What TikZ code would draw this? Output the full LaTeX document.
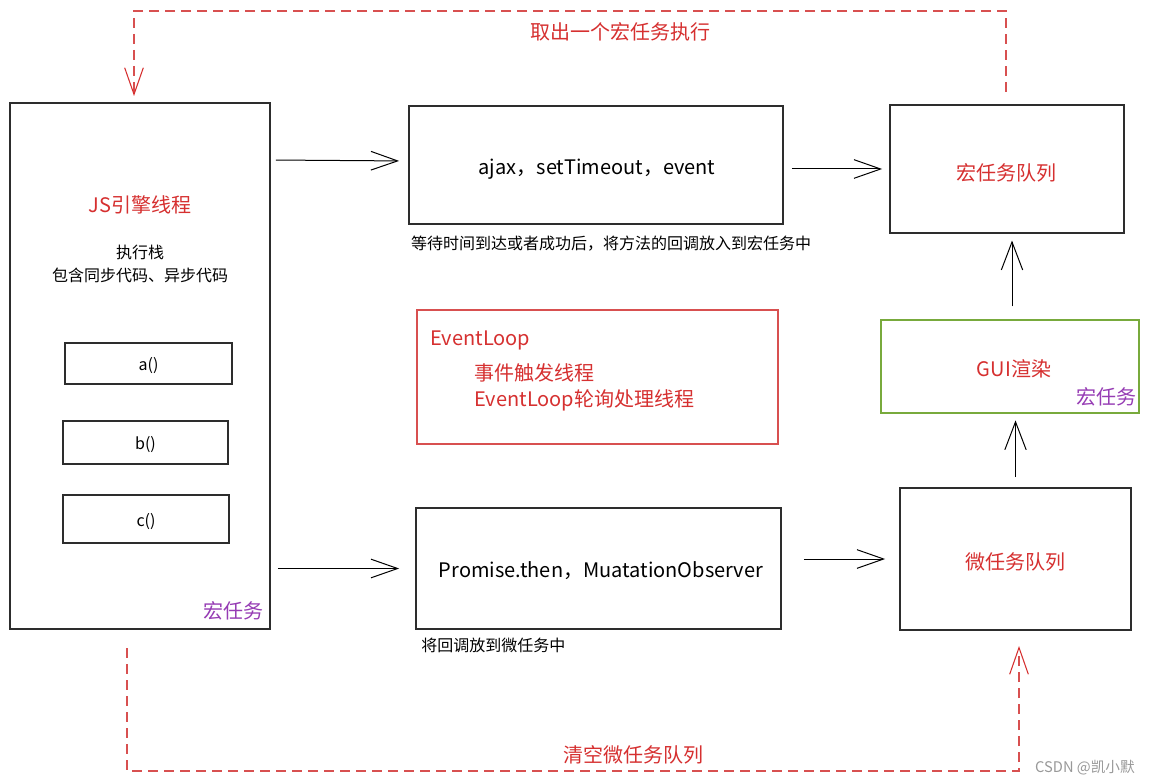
\documentclass[tikz,border=0pt]{standalone}
\usepackage{fontspec}
\setmainfont{Noto Sans CJK SC}
\usetikzlibrary{arrows.meta}
\definecolor{tred}{RGB}{214,48,48}
\definecolor{dred}{RGB}{216,80,80}
\definecolor{tpurple}{RGB}{150,60,180}
\definecolor{tgreen}{RGB}{120,170,60}
\definecolor{boxc}{RGB}{45,45,45}
\begin{document}
\begin{tikzpicture}[x=0.75pt,y=-0.75pt,
  box/.style={draw=boxc, line width=1.3pt, inner sep=0pt},
  big/.style={font=\fontsize{15}{18}\selectfont},
  mid/.style={font=\fontsize{15}{18}\selectfont},
  small/.style={font=\fontsize{12}{17}\selectfont},
  redtxt/.style={text=tred},
  purtxt/.style={text=tpurple},
  arr/.style={line width=0.75pt, -{Straight Barb[length=20pt,width=14pt,line width=0.75pt]}},
  uarr/.style={line width=0.75pt, -{Straight Barb[length=21pt,width=16pt,line width=0.75pt]}},
  darr/.style={draw=dred, line width=1pt, dash pattern=on 7.5pt off 4.5pt,
    -{Straight Barb[length=20pt,width=14pt,line width=0.8pt,color=tred]}}]
\useasboundingbox (0,0) rectangle (1149,784);
\fill[white] (0,0) rectangle (1149,784);

% left engine box
\node[box, minimum width=195pt, minimum height=394.5pt] (js) at (140,366) {};
\node[big, redtxt] (jst) at (140,205) {JS引擎线程};
\node[small, align=center] (stack) at (140,264) {执行栈\\包含同步代码、异步代码};
\node[box, minimum width=125.25pt, minimum height=30.75pt] (fa) at (148.5,363.5) {};
\node[small] (fat) at (148.5,366) {a()};
\node[box, minimum width=123.75pt, minimum height=32.25pt] (fb) at (145.5,442.5) {};
\node[small] (fbt) at (145.5,445) {b()};
\node[box, minimum width=124.5pt, minimum height=36pt] (fc) at (146,519) {};
\node[small] (fct) at (146,522) {c()};
\node[big, purtxt] (jsmacro) at (233,611) {宏任务};

% middle boxes
\node[box, minimum width=280.5pt, minimum height=88.5pt] (ajax) at (596,165) {};
\node[mid] (ajaxt) at (597,169) {ajax，setTimeout，event};
\node[small] (ajaxcap) at (611,244) {等待时间到达或者成功后，将方法的回调放入到宏任务中};
\node[draw=dred, line width=1.1pt, inner sep=0pt, minimum width=270.75pt, minimum height=100.5pt] (el) at (597.5,377) {};
\node[mid, redtxt, anchor=west, inner sep=0pt] (elt) at (430,340) {EventLoop};
\node[mid, redtxt, anchor=west, inner sep=0pt] (el1) at (474,373) {事件触发线程};
\node[mid, redtxt, anchor=west, inner sep=0pt] (el2) at (474,400) {EventLoop轮询处理线程};
\node[box, minimum width=273.75pt, minimum height=90.75pt] (prom) at (598.5,568.5) {};
\node[mid] (promt) at (601,571) {Promise.then，MuatationObserver};
\node[small, anchor=west, inner sep=0pt] (promcap) at (421,645) {将回调放到微任务中};

% right boxes
\node[box, minimum width=175.5pt, minimum height=96pt] (macroq) at (1007,169) {};
\node[big, redtxt] (macroqt) at (1006,173) {宏任务队列};
\node[draw=tgreen, line width=1.1pt, inner sep=0pt, minimum width=193.5pt, minimum height=69.75pt] (gui) at (1010,366.5) {};
\node[big, redtxt] (guit) at (1014,369) {GUI渲染};
\node[big, purtxt] (guimacro) at (1106,397) {宏任务};
\node[box, minimum width=173.25pt, minimum height=106.5pt] (microq) at (1015.5,559) {};
\node[big, redtxt] (microqt) at (1015,562) {微任务队列};

% solid arrows
\draw[arr, shorten <=3.75pt, shorten >=6.75pt] ([yshift=3.75pt]js.east |- ajax.west) -- ([yshift=3pt]ajax.west);
\draw[arr, shorten <=5.25pt, shorten >=12pt] (js.east |- prom.west) -- (prom.west);
\draw[arr, shorten <=6pt, shorten >=5.25pt] (ajax.east |- macroq.west) -- (macroq.west);
\draw[arr, shorten <=16.5pt, shorten >=10.5pt] (prom.east |- microq.west) -- (microq.west);
\draw[uarr, shorten <=9.75pt, shorten >=5pt] ([xshift=1.5pt]gui.north) -- ([xshift=1.5pt]gui.north |- macroq.south);
\draw[uarr, shorten <=7.5pt, shorten >=5pt] (microq.north) -- (microq.north |- gui.south);

% dashed loops
\coordinate (t1) at (1006,92);
\coordinate (t2) at (1006,11);
\coordinate (t3) at (134,11);
\coordinate (t4) at (134,96);
\draw[darr] (t1) -- (t2) -- (t3) -- (t4);
\node[big, redtxt] (toptxt) at (620,32) {取出一个宏任务执行};

\coordinate (b1) at (127,648);
\coordinate (b2) at (127,771);
\coordinate (b3) at (1019,771);
\coordinate (b4) at (1019,646);
\draw[darr] (b1) -- (b2) -- (b3) -- (b4);
\node[big, redtxt] (bottxt) at (633,755) {清空微任务队列};

\node[font=\fontsize{11}{13}\selectfont, text=black!40] (wm) at (1085,768) {CSDN @凯小默};
\end{tikzpicture}
\end{document}
